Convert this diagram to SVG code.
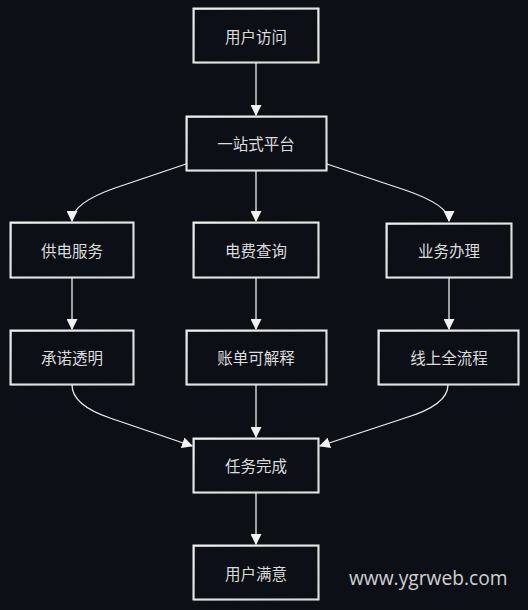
<svg xmlns="http://www.w3.org/2000/svg" width="528" height="610" viewBox="0 0 528 610">
<defs>
<marker id="ah" viewBox="0 0 10 10" refX="9" refY="5" markerWidth="11" markerHeight="11" markerUnits="userSpaceOnUse" orient="auto">
<path d="M0,0 L10,5 L0,10 z" fill="#f2f2f2"/>
</marker>
<style>
.bg{fill:#0c0f16}
.box{fill:#0c0f16;stroke:#f0f0f0;stroke-width:2}
.box2{fill:none;stroke:#d8d8d8;stroke-width:0.8}
.lbl{font-family:"Noto Sans CJK SC","Noto Sans",sans-serif;font-size:15.5px;fill:#dcdcdc;text-anchor:middle;dominant-baseline:central}
.edge{fill:none;stroke:#eeeeee;stroke-width:1.3;marker-end:url(#ah)}
.wm{font-family:"Open Sans","Noto Sans",sans-serif;font-size:19.2px;fill:#d0d0d0}
</style>
</defs>
<rect class="bg" x="0" y="0" width="528" height="610"/>
<g id="connectors">
<path class="edge" d="M256,63 L256,115"/>
<path class="edge" d="M186,164 L115,188 Q72,203 72,221"/>
<path class="edge" d="M256,171 L256,221"/>
<path class="edge" d="M327,164 L405,190 Q449,205 449,221"/>
<path class="edge" d="M72,278 L72,329"/>
<path class="edge" d="M256,278 L256,329"/>
<path class="edge" d="M449,278 L449,329"/>
<path class="edge" d="M72,385 Q72,405 110,418 L192,446"/>
<path class="edge" d="M256,385 L256,437"/>
<path class="edge" d="M448,385 Q448,405 405,418 L320,446"/>
<path class="edge" d="M256,493 L256,544"/>
</g>
<g id="n1"><rect class="box" x="193.5" y="8.5" width="125" height="54"/><path class="box2" d="M194,9.5 L317.5,8.8 M317.8,9 L318.2,62 M318,62.3 L194.5,62.8 M193.8,62 L194.2,9"/><text class="lbl" x="256" y="36">用户访问</text></g>
<g id="n2"><rect class="box" x="186.5" y="116.5" width="140" height="54"/><path class="box2" d="M187,117.5 L326,116.8 M326.3,117 L326.8,170 M326.5,170.5 L187.2,170.8 M186.8,170 L187.3,117"/><text class="lbl" x="256" y="143">一站式平台</text></g>
<g id="n3"><rect class="box" x="10.5" y="222.5" width="123" height="55"/><path class="box2" d="M11,223.5 L133,222.8 M133.3,223 L133.6,277 M133.4,277.4 L11.2,277.8 M10.8,277 L11.3,223"/><text class="lbl" x="72" y="250">供电服务</text></g>
<g id="n4"><rect class="box" x="193.5" y="222.5" width="125" height="55"/><path class="box2" d="M194,223.5 L318,222.8 M318.3,223 L318.6,277 M318.4,277.4 L194.2,277.8 M193.8,277 L194.3,223"/><text class="lbl" x="256" y="250">电费查询</text></g>
<g id="n5"><rect class="box" x="386.5" y="223.5" width="125" height="54"/><path class="box2" d="M387,224.5 L511,223.8 M511.3,224 L511.6,277 M511.4,277.4 L387.2,277.8 M386.8,277 L387.3,224"/><text class="lbl" x="449" y="250">业务办理</text></g>
<g id="n6"><rect class="box" x="10.5" y="330.5" width="123" height="54"/><path class="box2" d="M11,331.5 L133,330.8 M133.3,331 L133.6,384 M133.4,384.4 L11.2,384.8 M10.8,384 L11.3,331"/><text class="lbl" x="72" y="357">承诺透明</text></g>
<g id="n7"><rect class="box" x="186.5" y="330.5" width="140" height="54"/><path class="box2" d="M187,331.5 L326,330.8 M326.3,331 L326.6,384 M326.4,384.4 L187.2,384.8 M186.8,384 L187.3,331"/><text class="lbl" x="256" y="357">账单可解释</text></g>
<g id="n8"><rect class="box" x="378.5" y="330.5" width="140" height="54"/><path class="box2" d="M379,331.5 L518,330.8 M518.3,331 L518.6,384 M518.4,384.4 L379.2,384.8 M378.8,384 L379.3,331"/><text class="lbl" x="449" y="357">线上全流程</text></g>
<g id="n9"><rect class="box" x="193.5" y="438.5" width="125" height="54"/><path class="box2" d="M194,439.5 L318,438.8 M318.3,439 L318.6,492 M318.4,492.4 L194.2,492.8 M193.8,492 L194.3,439"/><text class="lbl" x="256" y="465">任务完成</text></g>
<g id="n10"><rect class="box" x="193.5" y="545.5" width="125" height="54"/><path class="box2" d="M194,546.5 L318,545.8 M318.3,546 L318.6,599 M318.4,599.4 L194.2,599.8 M193.8,599 L194.3,546"/><text class="lbl" x="256" y="573">用户满意</text></g>
<text class="wm" x="349" y="585">www.ygrweb.com</text>
</svg>
